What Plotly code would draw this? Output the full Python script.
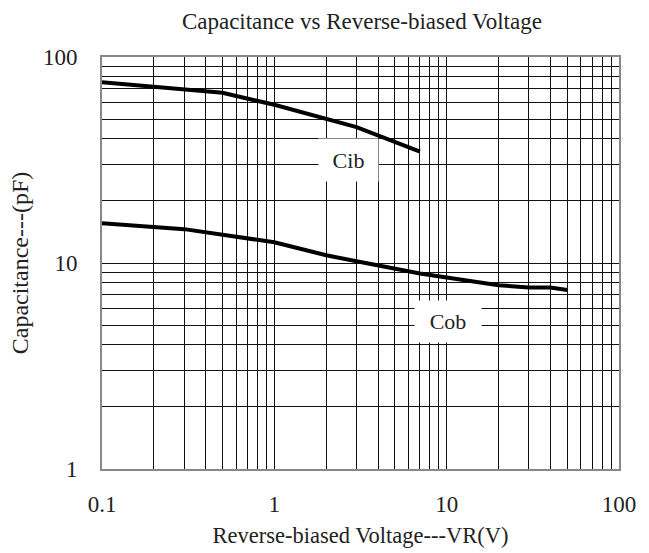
import plotly.graph_objects as go

# Data
cib_v = [0.1, 0.2, 0.5, 1, 2, 3, 7]
cib_c = [75.5, 72, 67, 58.6, 50, 45.7, 34.7]

cob_v = [0.1, 0.3, 1, 2, 3, 7, 10, 20, 30, 40, 50]
cob_c = [15.6, 14.6, 12.6, 10.9, 10.2, 8.9, 8.5, 7.8, 7.6, 7.6, 7.4]

major_ticks = [0.1, 1, 10, 100]
major_labels = ["0.1", "1", "10", "100"]
y_ticks = [1, 10, 100]
y_labels = ["1", "10", "100"]

x_minor = [m * 10 ** e for e in (-1, 0, 1) for m in range(2, 10)]
y_minor = [m * 10 ** e for e in (0, 1) for m in range(2, 10)]

FONT = "Liberation Serif"
GRID = "#111111"
TXT = "#222222"

fig = go.Figure()
fig.add_trace(go.Scatter(x=cib_v, y=cib_c, mode="lines",
                         line=dict(color="black", width=4), name="Cib",
                         showlegend=False))
fig.add_trace(go.Scatter(x=cob_v, y=cob_c, mode="lines",
                         line=dict(color="black", width=4), name="Cob",
                         showlegend=False))

fig.add_annotation(x=0.431, y=1.501, xref="x", yref="y", text="Cib",
                   showarrow=False, bgcolor="white", width=57, height=40,
                   font=dict(family=FONT, size=22, color=TXT))
fig.add_annotation(x=1.0099, y=0.714, xref="x", yref="y", text="Cob",
                   showarrow=False, bgcolor="white", width=64, height=39,
                   font=dict(family=FONT, size=22, color=TXT))

fig.update_layout(
    width=649, height=553,
    margin=dict(l=102, r=30, t=57, b=84),
    paper_bgcolor="white", plot_bgcolor="white",
    font=dict(family=FONT, size=22, color=TXT),
    title=dict(text="Capacitance vs Reverse-biased Voltage",
               x=0.5576, xanchor="center", y=0.963, yanchor="middle",
               font=dict(family=FONT, size=23, color=TXT)),
    xaxis=dict(type="log", range=[-1, 2], tickvals=major_ticks,
               ticktext=major_labels, showgrid=True, gridcolor=GRID,
               gridwidth=1, ticks="", ticklabelstandoff=13,
               automargin=False,
               minor=dict(tickvals=x_minor, showgrid=True, gridcolor=GRID,
                          gridwidth=1, ticks=""),
               showline=True, mirror=True, linecolor="#888", linewidth=2,
               zeroline=False,
               title=dict(text="Reverse-biased Voltage---VR(V)", standoff=12,
                          font=dict(family=FONT, size=22.5)),
               tickfont=dict(family=FONT, size=23)),
    yaxis=dict(type="log", range=[0, 2], tickvals=y_ticks,
               ticktext=y_labels, showgrid=True, gridcolor=GRID,
               gridwidth=1, ticks="", ticklabelstandoff=18,
               automargin=False,
               minor=dict(tickvals=y_minor, showgrid=True, gridcolor=GRID,
                          gridwidth=1, ticks=""),
               showline=True, mirror=True, linecolor="#888", linewidth=2,
               zeroline=False,
               title=dict(text="Capacitance---(pF)", standoff=8,
                          font=dict(family=FONT, size=24)),
               tickfont=dict(family=FONT, size=23)),
)

fig.write_html("out.html", config={"displayModeBar": False},
               post_script="document.body.style.margin='0';")
